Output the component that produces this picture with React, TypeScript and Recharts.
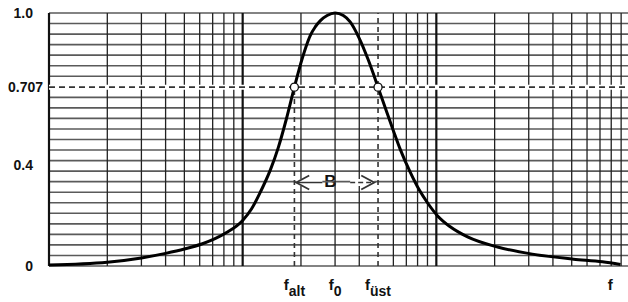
import { LineChart, Line, XAxis, YAxis, ReferenceLine, ReferenceDot, ReferenceArea } from "recharts";

// frequency (log axis) vs normalised amplitude
const freq = [1, 2, 3, 4, 5, 6.2, 7.2, 8.3, 10, 11.1, 12.3, 13.9, 15.3, 16.8, 18.5, 20.3, 21.3, 22.3, 23.7, 25.2, 27.3, 30, 33.1, 35.9, 40, 44.5, 50, 55.1, 60, 65.2, 73.4, 81.7, 90, 101, 118, 145, 207, 313, 511, 721, 893];
const gain = [0.004, 0.015, 0.032, 0.05, 0.067, 0.088, 0.108, 0.133, 0.18, 0.225, 0.29, 0.38, 0.47, 0.58, 0.707, 0.82, 0.87, 0.91, 0.945, 0.97, 0.99, 1.0, 0.99, 0.965, 0.9, 0.815, 0.707, 0.615, 0.535, 0.46, 0.37, 0.3, 0.25, 0.2, 0.155, 0.115, 0.075, 0.047, 0.027, 0.017, 0.006];

const fAlt = 18.5;
const f0 = 30;
const fUst = 50;
const halfPower = 0.707;

const yTicks = [0, 0.4, 0.707, 1];
const yLabels = ["0", "0.4", "0.707", "1.0"];

const xTicks = [fAlt, f0, fUst, 790];
const xMain = ["f", "f", "f", "f"];
const xSub = ["alt", "0", "üst", ""];

const gridMinorX = [2, 3, 4, 5, 6, 7, 8, 9, 20, 30, 40, 60, 70, 80, 90, 200, 300, 400, 500, 600, 700, 800, 900];
const gridMajorX = [1, 10, 100];
const gridY = Array.from({ length: 25 }, (_, k) => k / 24);

// band marker: white box with "B" and the two arrows
const bandBox = { x1: 22.9, x2: 35.1, y1: 0.28, y2: 0.39 };
const arrowY = 0.33;
const leftArrow = [18.9, 25.8];
const rightArrow = [35.9, 47.8];

const data = freq.map((f, i) => ({ f, g: gain[i] }));

const FONT = "'Liberation Sans', Arial, sans-serif";

const YTick = ({ x, y, payload }: any) => {
  const i = yTicks.indexOf(payload.value);
  const dx = payload.value === halfPower ? 2 : -8;
  return (
    <text x={x + dx} y={y} dy={5} textAnchor="end" fontFamily={FONT} fontWeight="bold" fontSize={14} fill="#111">
      {yLabels[i]}
    </text>
  );
};

const XTick = ({ x, y, payload }: any) => {
  const i = xTicks.indexOf(payload.value);
  return (
    <text x={x} y={y} dy={16} textAnchor="middle" fontFamily={FONT} fontWeight="bold" fill="#111">
      <tspan fontSize={15}>{xMain[i]}</tspan>
      {xSub[i] && (
        <tspan fontSize={14} dy={6}>
          {xSub[i]}
        </tspan>
      )}
    </text>
  );
};

const Arrow = (dashed: boolean, headAtEnd: boolean) => (props: any) => {
  const { x1, y1, x2 } = props;
  const tip = headAtEnd ? x2 : x1;
  const dir = headAtEnd ? -1 : 1;
  return (
    <g>
      <line x1={x1} y1={y1} x2={x2} y2={y1} stroke="#fff" strokeWidth={7} />
      <line x1={x1} y1={y1} x2={x2} y2={y1} stroke="#333" strokeWidth={1.5} strokeDasharray={dashed ? "5 3" : undefined} />
      <polyline
        points={`${tip + dir * 13},${y1 - 7} ${tip},${y1} ${tip + dir * 13},${y1 + 7}`}
        fill="none"
        stroke="#333"
        strokeWidth={1.8}
      />
    </g>
  );
};

const BLabel = ({ viewBox }: any) => (
  <text
    x={viewBox.x + viewBox.width / 2}
    y={viewBox.y + viewBox.height / 2}
    dy={6}
    textAnchor="middle"
    fontFamily={FONT}
    fontWeight="bold"
    fontSize={17}
    fill="#111"
  >
    B
  </text>
);

export default function App() {
  return (
    <div style={{ position: "absolute", left: 0, top: 0, width: 628, height: 302, overflow: "hidden", background: "#fff" }}>
      <LineChart width={640} height={302} data={data} margin={{ top: 13, right: 10, bottom: 0, left: 0 }}>
        <XAxis
          dataKey="f"
          type="number"
          scale="log"
          domain={[1, 1000]}
          allowDataOverflow
          ticks={xTicks}
          tick={<XTick />}
          axisLine={false}
          tickLine={false}
          height={36}
        />
        <YAxis
          type="number"
          domain={[0, 1]}
          ticks={yTicks}
          tick={<YTick />}
          axisLine={false}
          tickLine={false}
          width={49}
        />
        {gridY.map((v) => (
          <ReferenceLine key={`h${v}`} y={v} stroke="#5a5a5a" strokeWidth={1.6} />
        ))}
        {gridMinorX.map((v) => (
          <ReferenceLine key={`v${v}`} x={v} stroke="#222" strokeWidth={1.3} />
        ))}
        {gridMajorX.map((v) => (
          <ReferenceLine key={`V${v}`} x={v} stroke="#111" strokeWidth={2.2} />
        ))}
        <ReferenceLine y={halfPower} stroke="#fff" strokeWidth={5} />
        <ReferenceLine y={halfPower} stroke="#333" strokeWidth={1.6} strokeDasharray="6 4" />
        <ReferenceLine
          segment={[{ x: fAlt, y: 0 }, { x: fAlt, y: halfPower }]}
          stroke="#333"
          strokeWidth={1.6}
          strokeDasharray="5 4"
        />
        <ReferenceLine
          segment={[{ x: fUst, y: 0 }, { x: fUst, y: 1 }]}
          stroke="#333"
          strokeWidth={1.6}
          strokeDasharray="5 4"
        />
        <ReferenceArea {...bandBox} fill="#fff" fillOpacity={1} stroke="none" label={<BLabel />} />
        <ReferenceLine
          segment={[{ x: leftArrow[0], y: arrowY }, { x: leftArrow[1], y: arrowY }]}
          shape={Arrow(false, false)}
        />
        <ReferenceLine
          segment={[{ x: rightArrow[0], y: arrowY }, { x: rightArrow[1], y: arrowY }]}
          shape={Arrow(true, true)}
        />
        <Line
          type="monotone"
          dataKey="g"
          stroke="#000"
          strokeWidth={3}
          dot={false}
          isAnimationActive={false}
        />
        <ReferenceDot x={fAlt} y={halfPower} r={4} fill="#fff" stroke="#111" strokeWidth={1.3} />
        <ReferenceDot x={fUst} y={halfPower} r={4} fill="#fff" stroke="#111" strokeWidth={1.3} />
      </LineChart>
    </div>
  );
}
